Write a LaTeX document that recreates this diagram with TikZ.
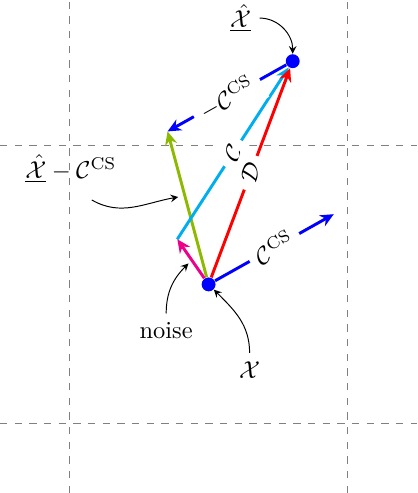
\documentclass[tikz,border=0pt]{standalone}
\usetikzlibrary{arrows.meta}
\definecolor{ptblue}{RGB}{0,0,255}
\definecolor{ptcyan}{RGB}{0,174,239}
\definecolor{ptgreen}{RGB}{141,185,0}
\definecolor{ptpink}{RGB}{236,0,140}
\tikzset{
  pt/.style={circle,fill=ptblue,inner sep=0pt,minimum size=0.2cm},
  vec/.style={-{Stealth[length=5.5pt,width=5pt]},very thick},
  lbl/.style={midway,sloped,fill=white,text=black},
  note/.style={->,thin}
}
\begin{document}
\begin{tikzpicture}[x=1cm,y=1cm,>=stealth]
\useasboundingbox (-3,-3) rectangle (3,4.09);
% grid
\foreach \v in {-2,2} {
  \draw[dashed,gray] (\v,-3) -- (\v,4.09);
  \draw[dashed,gray] (-3,\v) -- (3,\v);
}
% points
\node[pt] (x) at (0,0) {};
\node[pt] (xhat) at (1.21,3.21) {};
\coordinate (ccs) at (1.80,1.01);
\coordinate (shift) at (-0.59,2.20);
\coordinate (noise) at (-0.45,0.65);
% vectors
\draw[vec,ptgreen] (x) -- coordinate[pos=0.55] (g) (shift);
\draw[vec,ptpink] (x) -- coordinate[pos=0.38] (p) (noise);
\draw[vec,ptcyan] (noise) -- node[lbl] (clbl) {$\mathcal{C}$} (xhat);
\draw[vec,red] (x) -- node[lbl] (dlbl) {$\mathcal{D}$} (xhat);
\draw[vec,ptblue] (x) -- node[lbl] (ccslbl) {$\mathcal{C}^{\mathrm{CS}}$} (ccs);
\draw[vec,ptblue] (xhat) -- node[lbl] (mccslbl) {$-\mathcal{C}^{\mathrm{CS}}$} (shift);
% labels
\node (xhatlbl) at (0.46,3.83) {$\underline{\hat{\mathcal{X}}}$};
\draw[note] (xhatlbl.east) to[out=0,in=90] (xhat.north);
\node (shiftlbl) at (-1.98,1.66) {$\underline{\hat{\mathcal{X}}}-\mathcal{C}^{\mathrm{CS}}$};
\draw[note] ([xshift=0.3cm,yshift=-0.12cm]shiftlbl.south) to[out=-30,in=190] ([xshift=-0.1cm]g);
\node (noiselbl) at (-0.61,-0.66) {noise};
\draw[note] (noiselbl.north) to[out=90,in=225] ([xshift=-0.08cm]p);
\node (xlbl) at (0.59,-1.23) {$\mathcal{X}$};
\draw[note] (xlbl.north) to[out=90,in=-45] (x.south east);
\end{tikzpicture}
\end{document}
